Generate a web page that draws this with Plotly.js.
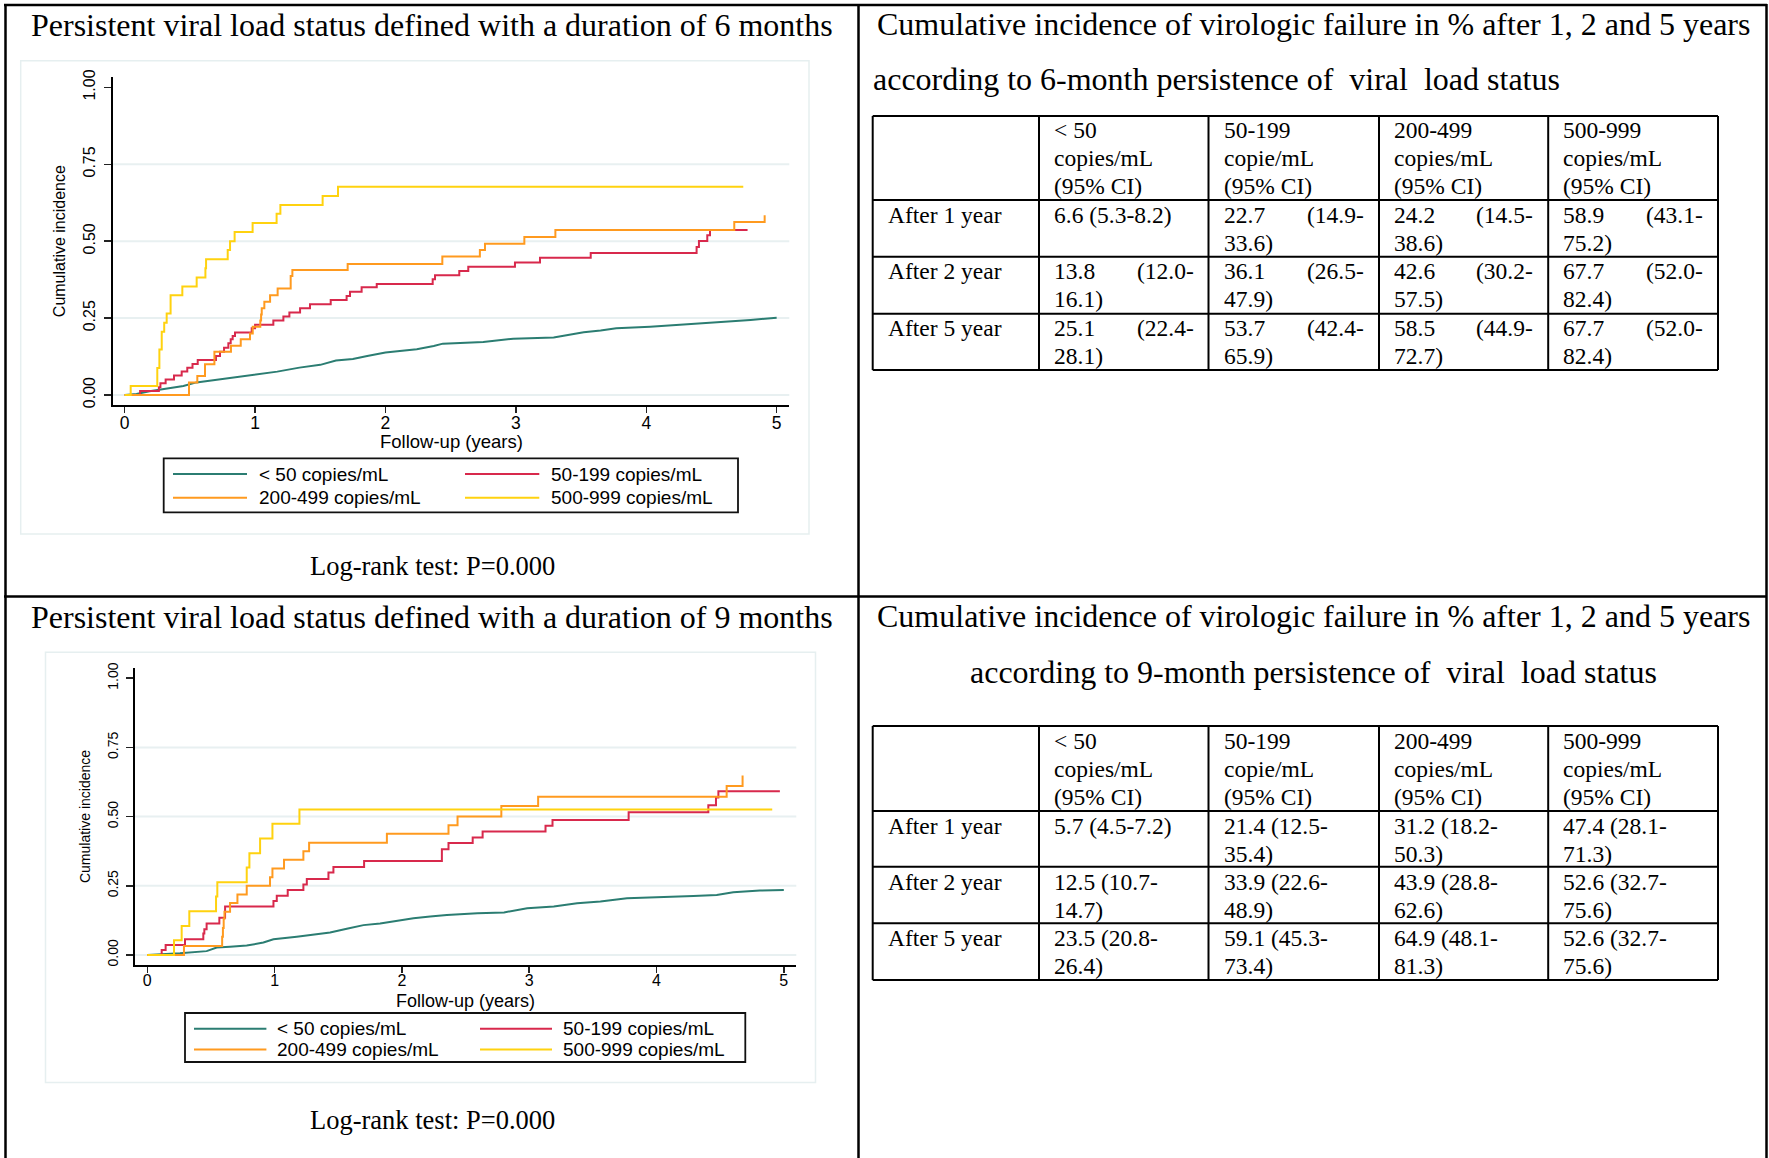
<!DOCTYPE html>
<html><head><meta charset="utf-8">
<script src="https://cdn.plot.ly/plotly-3.0.1.min.js"></script>
<style>html,body{margin:0;padding:0;background:#fff}#chart{width:1769px;height:1158px}</style>
</head><body><div id="chart"></div>
<script>
// ---------------- DATA ----------------
const seriesNames = ['< 50 copies/mL','50-199 copies/mL','200-499 copies/mL','500-999 copies/mL'];

// 6-month persistence: cumulative incidence curves (years, proportion)
const m6_lt50_t = [0,0.09,0.19,0.32,0.45,0.55,0.70,0.83,1.0,1.17,1.34,1.50,1.62,1.75,1.86,2.0,2.11,2.24,2.37,2.44,2.75,2.88,2.98,3.29,3.39,3.52,3.65,3.77,4.03,4.28,4.54,4.80,5.0];
const m6_lt50_y = [0,0.003,0.012,0.021,0.029,0.041,0.049,0.058,0.066,0.076,0.089,0.098,0.112,0.117,0.127,0.138,0.143,0.149,0.159,0.167,0.172,0.179,0.183,0.187,0.195,0.204,0.210,0.217,0.222,0.229,0.235,0.244,0.251];
const m6_50_t = [0,0.118,0.262,0.274,0.314,0.378,0.437,0.480,0.520,0.560,0.700,0.731,0.762,0.795,0.813,0.828,0.846,0.974,1.000,1.140,1.217,1.263,1.345,1.421,1.580,1.702,1.728,1.817,1.933,2.362,2.380,2.566,2.635,2.993,3.185,3.574,4.386,4.404,4.468,4.489,4.777];
const m6_50_y = [0,0.013,0.025,0.038,0.050,0.063,0.076,0.089,0.101,0.114,0.127,0.141,0.154,0.168,0.181,0.192,0.203,0.217,0.228,0.242,0.255,0.268,0.282,0.295,0.309,0.322,0.336,0.350,0.361,0.376,0.389,0.403,0.417,0.431,0.446,0.462,0.481,0.501,0.519,0.536,0.536];
const m6_200_t = [0,0.493,0.557,0.616,0.688,0.815,0.890,0.961,0.982,1.040,1.046,1.051,1.071,1.115,1.173,1.273,1.286,1.710,2.436,2.724,2.763,3.065,3.303,4.675,4.908];
const m6_200_y = [0,0.041,0.062,0.100,0.141,0.160,0.181,0.200,0.222,0.242,0.262,0.282,0.303,0.324,0.346,0.387,0.406,0.426,0.450,0.471,0.492,0.514,0.536,0.562,0.584];
const m6_500_t = [0,0.046,0.250,0.266,0.284,0.303,0.322,0.352,0.442,0.552,0.619,0.624,0.790,0.808,0.843,0.981,1.165,1.194,1.518,1.636,4.744];
const m6_500_y = [0,0.029,0.088,0.148,0.206,0.235,0.265,0.324,0.353,0.382,0.412,0.441,0.471,0.500,0.530,0.559,0.589,0.618,0.647,0.677,0.677];

// 9-month persistence
const m9_lt50_t = [0,0.126,0.257,0.466,0.545,0.650,0.781,0.912,0.991,1.174,1.279,1.436,1.567,1.698,1.829,1.960,2.091,2.222,2.353,2.593,2.802,2.984,3.193,3.376,3.559,3.768,4.029,4.290,4.473,4.603,4.812,5.0];
const m9_lt50_y = [0,0.002,0.006,0.014,0.027,0.030,0.034,0.045,0.057,0.066,0.072,0.081,0.095,0.108,0.114,0.124,0.133,0.139,0.145,0.151,0.154,0.169,0.175,0.187,0.193,0.205,0.208,0.213,0.217,0.227,0.233,0.235];
const m9_50_t = [0,0.113,0.144,0.296,0.440,0.448,0.466,0.566,0.611,0.991,1.017,1.103,1.226,1.253,1.423,1.462,1.703,2.314,2.366,2.556,2.634,3.128,3.183,3.781,4.407,4.467,4.486,4.969];
const m9_50_y = [0,0.018,0.036,0.057,0.078,0.093,0.114,0.135,0.175,0.195,0.214,0.235,0.255,0.275,0.298,0.318,0.340,0.382,0.405,0.425,0.446,0.467,0.488,0.516,0.541,0.569,0.592,0.592];
const m9_200_t = [0,0.288,0.588,0.594,0.600,0.606,0.650,0.708,0.781,0.964,0.983,1.074,1.226,1.271,1.882,2.366,2.437,2.781,3.070,4.551,4.676];
const m9_200_y = [0,0.033,0.066,0.098,0.131,0.156,0.188,0.219,0.250,0.281,0.313,0.344,0.375,0.406,0.438,0.469,0.500,0.538,0.572,0.611,0.649];
const m9_500_t = [0,0.210,0.270,0.330,0.540,0.550,0.781,0.802,0.886,0.983,1.195,4.909];
const m9_500_y = [0,0.053,0.105,0.158,0.211,0.263,0.316,0.368,0.421,0.474,0.526,0.526];

const yTickVals = [0,0.25,0.5,0.75,1];
const yTickText = ['0.00','0.25','0.50','0.75','1.00'];
const xTickVals = [0,1,2,3,4,5];

// tables
const headerLines = [['< 50','copies/mL','(95% CI)'],['50-199','copie/mL','(95% CI)'],['200-499','copies/mL','(95% CI)'],['500-999','copies/mL','(95% CI)']];
const rowLabels = ['After 1 year','After 2 year','After 5 year'];
const est6 = [[6.6,22.7,24.2,58.9],[13.8,36.1,42.6,67.7],[25.1,53.7,58.5,67.7]];
const lo6  = [[5.3,14.9,14.5,43.1],[12.0,26.5,30.2,52.0],[22.4,42.4,44.9,52.0]];
const hi6  = [[8.2,33.6,38.6,75.2],[16.1,47.9,57.5,82.4],[28.1,65.9,72.7,82.4]];
const est9 = [[5.7,21.4,31.2,47.4],[12.5,33.9,43.9,52.6],[23.5,59.1,64.9,52.6]];
const lo9  = [[4.5,12.5,18.2,28.1],[10.7,22.6,28.8,32.7],[20.8,45.3,48.1,32.7]];
const hi9  = [[7.2,35.4,50.3,71.3],[14.7,48.9,62.6,75.6],[26.4,73.4,81.3,75.6]];

const plotTitles = ['Persistent viral load status defined with a duration of 6 months','Persistent viral load status defined with a duration of 9 months'];
const logRankText = 'Log-rank test: P=0.000';
const tableTitle1 = 'Cumulative incidence of virologic failure in % after 1, 2 and 5 years';
const tableTitle2 = ['according to 6-month persistence of\u00a0 viral\u00a0 load status','according to 9-month persistence of\u00a0 viral\u00a0 load status'];
const xTitle = 'Follow-up (years)';
const yTitle = 'Cumulative incidence';

// ---------------- STYLE ----------------
const W = 1769, H = 1158;
const colors = ['#2b7d72','#d8294c','#ff9a1f','#ffd20f'];
const SERIF = 'Liberation Serif, Times New Roman, serif';
const SANS = 'Liberation Sans, Arial, Helvetica, sans-serif';
const px = X => X / W;
const py = Y => 1 - Y / H;

const traces = [];
function addPlot(sets, xa, ya) {
  sets.forEach((s, i) => {
    traces.push({
      x: s[0], y: s[1], xaxis: xa, yaxis: ya, type: 'scatter', mode: 'lines',
      name: seriesNames[i], showlegend: false, hoverinfo: 'skip',
      line: {color: colors[i], width: 2, shape: i === 0 ? 'linear' : 'hv'}
    });
  });
}
addPlot([[m6_lt50_t,m6_lt50_y],[m6_50_t,m6_50_y],[m6_200_t,m6_200_y],[m6_500_t,m6_500_y]], 'x', 'y');
addPlot([[m9_lt50_t,m9_lt50_y],[m9_50_t,m9_50_y],[m9_200_t,m9_200_y],[m9_500_t,m9_500_y]], 'x2', 'y2');

const shapes = [];
const annotations = [];
function line(X0,Y0,X1,Y1,color,width){shapes.push({type:'line',xref:'paper',yref:'paper',x0:px(X0),y0:py(Y0),x1:px(X1),y1:py(Y1),line:{color,width}});}
function rect(X0,Y0,X1,Y1,color,width){shapes.push({type:'rect',xref:'paper',yref:'paper',x0:px(X0),y0:py(Y0),x1:px(X1),y1:py(Y1),line:{color,width},fillcolor:'rgba(0,0,0,0)',layer:'below'});}
function text(t,X,Y,size,family,xanchor){annotations.push({text:t,xref:'paper',yref:'paper',x:px(X),y:py(Y),xanchor:xanchor||'center',yanchor:'middle',showarrow:false,borderpad:0,font:{family,size,color:'#000'}});}

// outer grid of the figure
line(4,5,1767,5,'#000',2.5);
line(5.5,4,5.5,1158,'#000',2.5);
line(1766.5,4,1766.5,1158,'#000',2.5);
line(858.5,4,858.5,1158,'#000',2.5);
line(4,596.5,1767,596.5,'#000',2.5);

// graph region boxes
rect(20.7,60.7,809,534,'#e6eff0',1.5);
rect(45.5,652.3,815.5,1082.5,'#e6eff0',1.5);

// gridlines (in data coordinates)
[['x','y'],['x2','y2']].forEach(([xa,ya]) => {
  yTickVals.slice(0,4).forEach(v => shapes.push({type:'line',xref:xa+' domain',yref:ya,x0:0,x1:1,y0:v,y1:v,layer:'below',line:{color:'#e8f0f1',width:2}}));
});

// x-axis titles
text(xTitle, 451, 442, 18.5, SANS);
text(xTitle, 465, 1000.5, 18, SANS);

// legends
function legend(box, linesX, textX, rowY) {
  rect(box[0],box[1],box[2],box[3],'#111',1.8);
  seriesNames.forEach((nm,i) => {
    const c = i % 2, r = Math.floor(i / 2);
    line(linesX[c][0], rowY[r], linesX[c][1], rowY[r], colors[i], 2);
    text(nm, textX[c], rowY[r], 19, SANS, 'left');
  });
}
legend([163.7,458.3,738,512.3], [[173,247],[465,539.3]], [257.5,550], [474,497.7]);
legend([185,1013,745.3,1062], [[194,266.4],[480,552]], [276,561.5], [1028.7,1049.4]);

// plot titles and log-rank
text(plotTitles[0], 432, 25, 32, SERIF);
text(plotTitles[1], 432, 617, 32, SERIF);
text(logRankText, 432, 566, 26.5, SERIF);
text(logRankText, 432, 1120, 26.5, SERIF);

// tables
const colX = [872.7, 1039, 1208.5, 1379, 1548.2, 1718];
function table(rowY, est, lo, hi, justify, titleY, subtitle, subCenter, first) {
  text(tableTitle1, 1313, titleY[0], 32, SERIF);
  if (subCenter) text(subtitle, 1313, titleY[1], 32, SERIF);
  else text(subtitle, 871.5, titleY[1], 32, SERIF, 'left');
  // borders
  rowY.forEach(Y => line(colX[0], Y, colX[5], Y, '#000', 2));
  colX.forEach(X => line(X, rowY[0], X, rowY[4], '#000', 2));
  const pad = 14, pitch = 28, fs = 23.5;
  headerLines.forEach((hl, c) => hl.forEach((t, k) => text(t, colX[c+1] + pad, rowY[0] + first + k*pitch, fs, SERIF, 'left')));
  rowLabels.forEach((lab, r) => {
    const top = rowY[r+1];
    text(lab, colX[0] + pad, top + first, fs, SERIF, 'left');
    for (let c = 0; c < 4; c++) {
      const e = est[r][c].toFixed(1), l = lo[r][c].toFixed(1), h = hi[r][c].toFixed(1);
      const full = e + ' (' + l + '-' + h + ')';
      const xl = colX[c+1] + pad, xr = colX[c+2] - pad;
      if (full.length <= 13) {
        text(full, xl, top + first, fs, SERIF, 'left');
      } else if (justify) {
        text(e, xl, top + first, fs, SERIF, 'left');
        text('(' + l + '-', xr, top + first, fs, SERIF, 'right');
        text(h + ')', xl, top + first + pitch, fs, SERIF, 'left');
      } else {
        text(e + ' (' + l + '-', xl, top + first, fs, SERIF, 'left');
        text(h + ')', xl, top + first + pitch, fs, SERIF, 'left');
      }
    }
  });
}
table([116,200,256.7,313.7,370], est6, lo6, hi6, true, [24,79], tableTitle2[0], false, 14.5);
table([726,811,866.7,923.3,980], est9, lo9, hi9, false, [616,672], tableTitle2[1], true, 15);

function xaxis(domain, range, fsize, standoff) {
  return {domain, range, tickvals: xTickVals, ticktext: xTickVals.map(String), showline: true, linecolor: '#000', linewidth: 1.5,
    ticks: 'outside', ticklen: 6, tickwidth: 1.5, tickcolor: '#222', showgrid: false, zeroline: false,
    ticklabelstandoff: standoff,
    tickfont: {family: SANS, size: fsize, color: '#000'}};
}
function yaxis(domain, range, fsize) {
  return {domain, range, tickvals: yTickVals, ticktext: yTickText, tickangle: -90, showline: true, linecolor: '#000', linewidth: 1.5,
    ticks: 'outside', ticklen: 7, tickwidth: 1.5, tickcolor: '#222', showgrid: false, zeroline: false,
    ticklabelstandoff: 3,
    tickfont: {family: SANS, size: fsize, color: '#000'},
    title: {text: yTitle, font: {family: SANS, size: fsize, color: '#000'}, standoff: 11}};
}

const layout = {
  width: W, height: H, margin: {l:0,r:0,t:0,b:0}, paper_bgcolor: '#fff', plot_bgcolor: 'rgba(0,0,0,0)',
  showlegend: false,
  xaxis: Object.assign(xaxis([px(112.7), px(789.3)], [-0.092, 5.097], 17.5, -5), {anchor: 'y'}),
  yaxis: Object.assign(yaxis([py(405), py(77.3)], [-0.0325, 1.0328], 16), {anchor: 'x'}),
  xaxis2: Object.assign(xaxis([px(134.9), px(796.3)], [-0.0974, 5.098], 16, -6), {anchor: 'y2'}),
  yaxis2: Object.assign(yaxis([py(965), py(668)], [-0.0361, 1.037], 14), {anchor: 'x2'}),
  shapes, annotations
};
Plotly.newPlot('chart', traces, layout, {staticPlot: true, displayModeBar: false});
</script></body></html>
